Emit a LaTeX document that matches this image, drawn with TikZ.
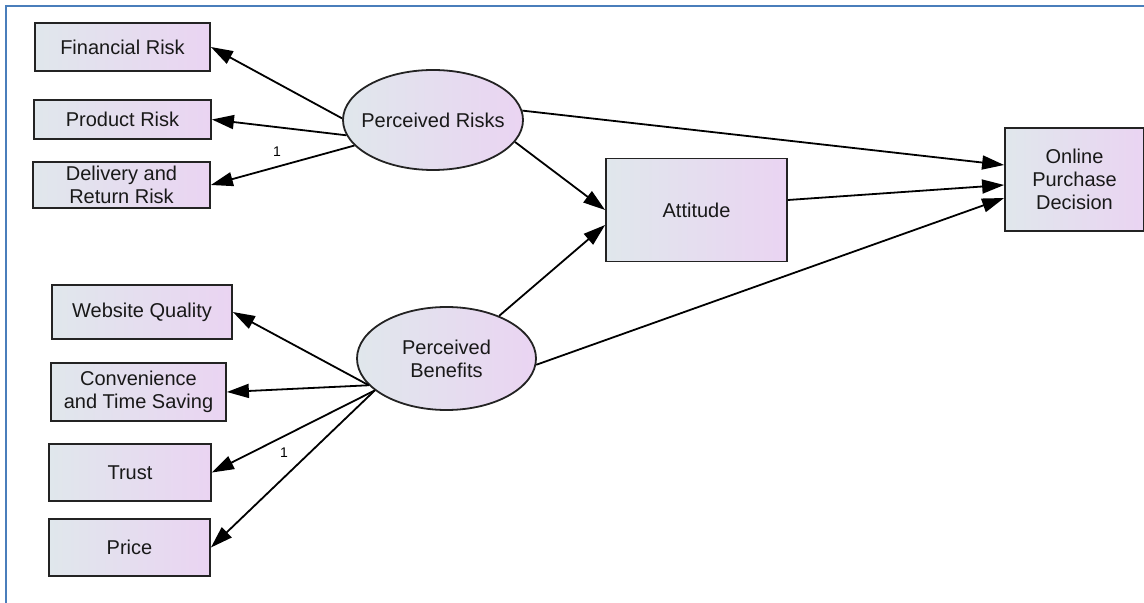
\documentclass[tikz,border=0pt]{standalone}
\usepackage{fontspec}
\setmainfont{Liberation Sans}
\usetikzlibrary{arrows.meta,calc,shapes.geometric}
\definecolor{fillL}{RGB}{224,231,236}
\definecolor{fillR}{RGB}{234,212,242}
\definecolor{frameblue}{RGB}{74,126,187}
\definecolor{edgegrey}{RGB}{35,35,35}
\tikzset{
  obs/.style={rectangle, draw=edgegrey, line width=0.9pt, left color=fillL, right color=fillR,
    inner sep=0pt, align=center, font=\fontsize{10}{11.5}\selectfont, text=black!90},
  lat/.style={ellipse, draw=edgegrey, line width=0.9pt, left color=fillL, right color=fillR,
    inner sep=0pt},
  lattext/.style={inner sep=0pt, align=center, font=\fontsize{10}{11.5}\selectfont, text=black!90},
  path/.style={draw=black, line width=0.9pt, -{Triangle[length=11pt,width=7pt]}},
  wlabel/.style={font=\fontsize{7}{8}\selectfont, inner sep=0pt}
}
\begin{document}
\begin{tikzpicture}[x=0.5pt,y=-0.5pt]
\useasboundingbox (0,0) rectangle (1144,603);
\draw[frameblue, line width=1pt] (6,603) -- (6,6) -- (1144,6);

% observed indicators (sizes in pt = px/2)
\node[obs, minimum width=87.5pt, minimum height=24pt] (fr) at (122.5,47) {Financial Risk};
\node[obs, minimum width=88.5pt, minimum height=19.5pt] (prk) at (122.5,119.5) {Product Risk};
\node[obs, minimum width=88.5pt, minimum height=23pt] (dr) at (121.5,185) {Delivery and\\Return Risk};
\node[obs, minimum width=90pt, minimum height=27pt] (wq) at (142,312) {Website Quality};
\node[obs, minimum width=87.5pt, minimum height=29pt] (cv) at (138.5,392) {Convenience\\and Time Saving};
\node[obs, minimum width=81pt, minimum height=28.5pt] (tr) at (130,472.5) {Trust};
\node[obs, minimum width=80.5pt, minimum height=28.5pt] (pc) at (129.5,547.5) {Price};

% latent constructs
\node[lat, minimum width=90pt, minimum height=50pt] (pr) at (433,120) {};
\node[lattext] (prt) at (pr.center) {Perceived Risks};
\node[lat, minimum width=89.5pt, minimum height=51.5pt] (pb) at (446.5,358.5) {};
\node[lattext] (pbt) at (pb.center) {Perceived\\Benefits};

% outcomes
\node[obs, minimum width=90.5pt, minimum height=51.5pt] (att) at (696.5,210) {Attitude};
\node[obs, minimum width=69.5pt, minimum height=51.5pt] (opd) at (1074.5,179.5) {Online\\Purchase\\Decision};

% measurement paths
\draw[path] (pr.179) -- (fr.east);
\draw[path] (pr.190) -- (prk.east);
\draw[path] (pr.198) -- (dr.east);
\node[wlabel] (l1) at (277,152) {1};

\draw[path] (pb.199) -- (wq.east);
\draw[path] (pb.199) -- (cv.east);
\draw[path] (pb.204) -- (tr.east);
\draw[path] (pb.204) -- (pc.east);
\node[wlabel] (l2) at (284,453) {1};

% structural paths
\draw[path] (pr.6) -- ($(opd.west)+(0,-14.5)$);
\draw[path] (pr.-15) -- (att.west);
\draw[path] (pb.39) -- ($(att.west)+(0,15)$);
\draw[path] ($(att.east)+(0,-10)$) -- ($(opd.west)+(0,5.5)$);
\draw[path] (pb.-4) -- ($(opd.west)+(0,18.5)$);
\end{tikzpicture}
\end{document}
